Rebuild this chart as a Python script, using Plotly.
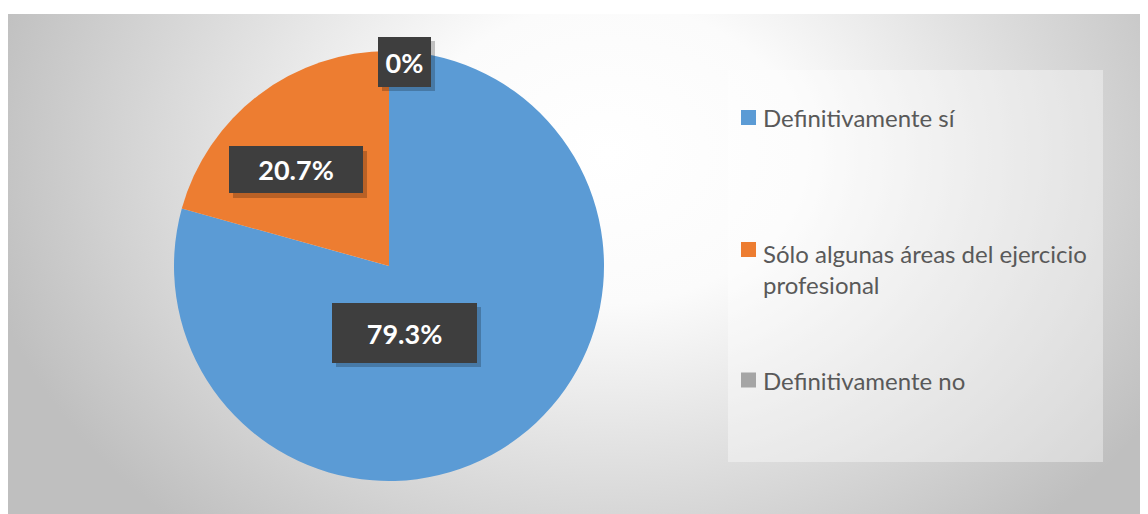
import base64
import textwrap
import plotly.graph_objects as go

# ---- data ----
categories = ["Definitivamente sí", "Sólo algunas áreas del ejercicio profesional", "Definitivamente no"]
values = [79.3, 20.7, 0]
colors = ["#5B9BD5", "#ED7D31", "#A5A5A5"]

# page has an 8px body margin; figure sized to fit the 1148x514 window
OFF = 8
W, H = 1148 - OFF, 514 - OFF

def px(x):
    return (x - OFF) / W

def py(y):
    return 1 - (y - OFF) / H

# ---- background gradient (radial, as SVG data URI) ----
svg = """<svg xmlns='http://www.w3.org/2000/svg' width='1140' height='510' viewBox='0 0 1140 510'>
<defs><radialGradient id='g' gradientUnits='userSpaceOnUse' cx='600' cy='140' r='640'
 gradientTransform='translate(600 140) scale(1 0.78) translate(-600 -140)'>
<stop offset='0' stop-color='#ffffff'/><stop offset='0.3' stop-color='#fbfbfb'/>
<stop offset='1' stop-color='#bfbfbf'/></radialGradient></defs>
<rect width='1140' height='510' fill='url(#g)'/></svg>"""
bg_src = "data:image/svg+xml;base64," + base64.b64encode(svg.encode()).decode()

fig = go.Figure()

cx, cy, r = 389, 266, 215
fig.add_trace(go.Pie(
    labels=categories,
    values=values,
    marker=dict(colors=colors, line=dict(width=0)),
    sort=False,
    direction="clockwise",
    rotation=0,
    textinfo="none",
    showlegend=False,
    domain=dict(x=[px(cx - r), px(cx + r)], y=[py(cy + r), py(cy - r)]),
))

# ---- data label boxes ----
label_boxes = [  # (center x, center y, width, height) in page pixels
    (404, 333, 145, 60),
    (296, 170, 134, 47),
    (404, 62, 53, 50),
]
annotations = []
for v, (bx, by, bw, bh) in zip(values, label_boxes):
    txt = f"{v:g}%"
    annotations.append(dict(
        x=px(bx + 4), y=py(by + 4), xref="paper", yref="paper", text="",
        showarrow=False, width=bw, height=bh, bgcolor="rgba(0,0,0,0.22)",
        borderpad=0, borderwidth=0, xanchor="center", yanchor="middle"))
    annotations.append(dict(
        x=px(bx), y=py(by), xref="paper", yref="paper", text=f"<b>{txt}</b>",
        showarrow=False, width=bw, height=bh, bgcolor="#3E3E3E",
        borderpad=0, borderwidth=0, xanchor="center", yanchor="middle",
        font=dict(family="Lato", size=27, color="white")))

# ---- legend (manual, to match spacing) ----
shapes = [
    dict(type="rect", xref="paper", yref="paper", layer="below",
         x0=px(728), x1=px(1103), y0=py(462), y1=py(70),
         fillcolor="rgba(255,255,255,0.38)", line=dict(width=0)),
]
legend_rows = [118, 269, 380]
square_y = [117.5, 249.5, 380]
for cat, col, ty, sy in zip(categories, colors, legend_rows, square_y):
    shapes.append(dict(type="rect", xref="paper", yref="paper",
                       x0=px(741), x1=px(756), y0=py(sy + 7.5), y1=py(sy - 7.5),
                       fillcolor=col, line=dict(width=0)))
    annotations.append(dict(
        x=px(761), y=py(ty), xref="paper", yref="paper",
        text="<br>".join(textwrap.wrap(cat, 33)),
        showarrow=False, xanchor="left", yanchor="middle", align="left",
        font=dict(family="Lato", size=24, color="#595959")))

fig.update_layout(
    width=W, height=H,
    margin=dict(l=0, r=0, t=0, b=0),
    paper_bgcolor="white",
    plot_bgcolor="white",
    images=[dict(source=bg_src, xref="paper", yref="paper",
                 x=px(8), y=py(14), sizex=1140 / W, sizey=510 / H,
                 xanchor="left", yanchor="top", sizing="stretch", layer="below")],
    shapes=shapes,
    annotations=annotations,
    showlegend=False,
)

fig.write_html("out.html")
